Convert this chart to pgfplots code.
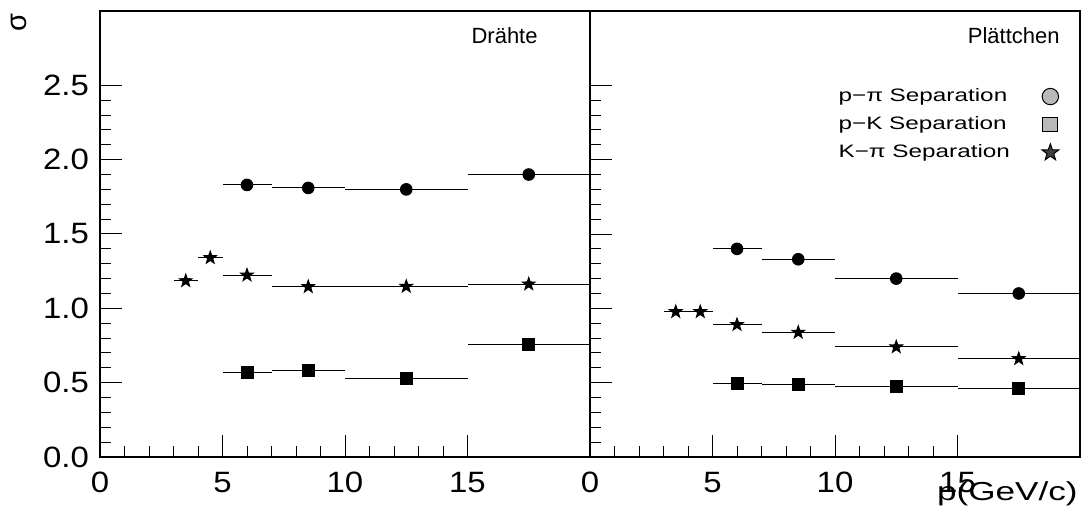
\documentclass[border=0pt]{standalone}
\usepackage{fontspec}
\setmainfont{Liberation Sans}
\newfontfamily\tickfont{Liberation Sans}[FakeStretch=1.12]
\newfontfamily\widefont{Liberation Sans}[FakeStretch=1.35]
\usepackage{pgfplots}
\pgfplotsset{compat=1.18}

% filled five-pointed star
\pgfdeclareplotmark{fstar}{%
  \pgfpathmoveto{\pgfpointpolar{90}{\pgfplotmarksize}}%
  \pgfpathlineto{\pgfpointpolar{126}{0.4\pgfplotmarksize}}%
  \pgfpathlineto{\pgfpointpolar{162}{\pgfplotmarksize}}%
  \pgfpathlineto{\pgfpointpolar{198}{0.4\pgfplotmarksize}}%
  \pgfpathlineto{\pgfpointpolar{234}{\pgfplotmarksize}}%
  \pgfpathlineto{\pgfpointpolar{270}{0.4\pgfplotmarksize}}%
  \pgfpathlineto{\pgfpointpolar{306}{\pgfplotmarksize}}%
  \pgfpathlineto{\pgfpointpolar{342}{0.4\pgfplotmarksize}}%
  \pgfpathlineto{\pgfpointpolar{18}{\pgfplotmarksize}}%
  \pgfpathlineto{\pgfpointpolar{54}{0.4\pgfplotmarksize}}%
  \pgfpathclose\pgfusepathqfillstroke}

\tikzset{lab/.style={anchor=north east, inner sep=0pt, font=\fontsize{11}{13}\selectfont}}

\pgfplotsset{
  panel/.style={
    width=245pt, height=223pt, scale only axis,
    xmin=0, xmax=20, ymin=0, ymax=3,
    xtick={0,5,10,15}, ytick={0,0.5,...,2.5},
    minor x tick num=4, minor y tick num=4,
    tick align=inside, xtick pos=bottom, ytick pos=left,
    major tick length=11pt, minor tick length=5.5pt,
    axis line style={line width=0.8pt},
    every tick/.style={black, line width=0.5pt},
    ticklabel style={font=\tickfont\fontsize{14.7}{17}\selectfont},
    /pgf/number format/assume math mode=true,
    xticklabel style={yshift=-4pt},
    yticklabel style={xshift=-2pt, /pgf/number format/fixed,
      /pgf/number format/fixed zerofill, /pgf/number format/precision=1},
    clip=false,
  },
  sep/.style={only marks, black, mark options={fill=black}, line width=0.5pt,
    error bars/x dir=both, error bars/x explicit, error bars/error mark=none,
    error bars/error bar style={line width=0.5pt, black}},
}

\begin{document}
\begin{tikzpicture}
% left panel: Draehte
\begin{axis}[panel, at={(50pt,34pt)}, anchor=south west,
    ylabel={σ}, ylabel style={at={(rel axis cs:-0.165,0.975)}, anchor=center,
      font=\fontsize{14.5}{17}\selectfont}]
\addplot[sep, mark=*, mark size=2.9pt] coordinates {
  (6,1.83) +- (1,0) (8.5,1.81) +- (1.5,0) (12.5,1.80) +- (2.5,0) (17.5,1.90) +- (2.5,0)};
\addplot[sep, mark=square*, mark size=3pt] coordinates {
  (6,0.57) +- (1,0) (8.5,0.583) +- (1.5,0) (12.5,0.531) +- (2.5,0) (17.5,0.757) +- (2.5,0)};
\addplot[sep, mark=fstar, mark size=3.3pt] coordinates {
  (3.5,1.185) +- (0.5,0) (4.5,1.34) +- (0.5,0) (6,1.223) +- (1,0)
  (8.5,1.145) +- (1.5,0) (12.5,1.147) +- (2.5,0) (17.5,1.163) +- (2.5,0)};
\node[lab] at (rel axis cs:1,1) [xshift=-26pt, yshift=-8pt] {Drähte};
\end{axis}
% right panel: Plaettchen
\begin{axis}[panel, at={(295pt,34pt)}, anchor=south west, yticklabels={},
    xlabel={p(GeV/c)}, xlabel style={at={(rel axis cs:1,0)}, anchor=north east,
      inner sep=0pt, xshift=-1pt, yshift=-12pt, font=\widefont\fontsize{13}{15}\selectfont},
    legend plot pos=right,
    legend style={at={(rel axis cs:0.486,0.845)}, anchor=north west, draw=none,
      fill=none, font=\widefont\fontsize{9}{11}\selectfont, cells={anchor=west},
      /tikz/row sep=2pt, /tikz/column sep=14pt}]
\addlegendimage{only marks, mark=*, mark size=4.1pt, mark options={fill=gray!55, draw=black, line width=0.5pt}}
\addlegendimage{only marks, mark=square*, mark size=3.7pt, mark options={fill=gray!55, draw=black, line width=0.5pt}}
\addlegendimage{only marks, mark=fstar, mark size=4.4pt, mark options={fill=black!75, draw=black, line width=0.5pt}}
\addplot[sep, forget plot, mark=*, mark size=2.9pt] coordinates {
  (6,1.40) +- (1,0) (8.5,1.33) +- (1.5,0) (12.5,1.20) +- (2.5,0) (17.5,1.10) +- (2.5,0)};
\addplot[sep, forget plot, mark=square*, mark size=3pt] coordinates {
  (6,0.495) +- (1,0) (8.5,0.485) +- (1.5,0) (12.5,0.472) +- (2.5,0) (17.5,0.46) +- (2.5,0)};
\addplot[sep, forget plot, mark=fstar, mark size=3.3pt] coordinates {
  (3.5,0.977) +- (0.5,0) (4.5,0.977) +- (0.5,0) (6,0.89) +- (1,0)
  (8.5,0.838) +- (1.5,0) (12.5,0.74) +- (2.5,0) (17.5,0.661) +- (2.5,0)};
\legend{p−π Separation, p−K Separation, K−π Separation}
\node[lab] at (rel axis cs:1,1) [xshift=-10pt, yshift=-8pt] {Plättchen};
\end{axis}
\pgfresetboundingbox
\path[use as bounding box] (0,0) rectangle (543pt,262.5pt);
\end{tikzpicture}
\end{document}
